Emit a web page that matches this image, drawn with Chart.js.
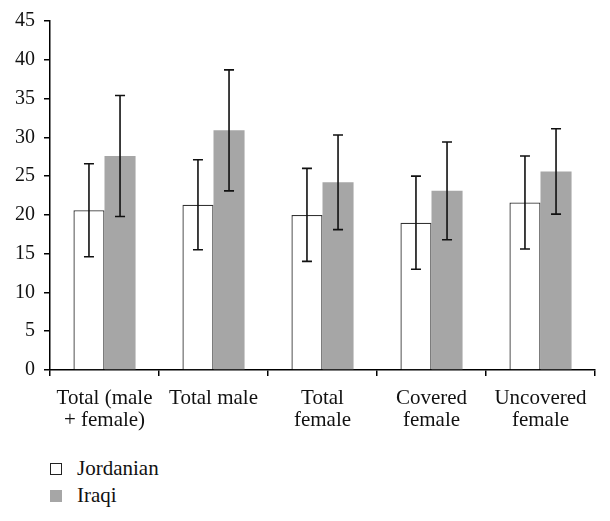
<!DOCTYPE html>
<html>
<head>
<meta charset="utf-8">
<script src="https://cdn.jsdelivr.net/npm/chart.js@4/dist/chart.umd.min.js"></script>
<style>
  body { margin: 0; background: #fff; }
  #wrap { position: relative; width: 610px; height: 521px; }
  #box { position: absolute; left: 0; top: 0; width: 610px; height: 440px; }
  #legend { position: absolute; left: 50px; top: 455px; font-family: "Liberation Serif", serif; font-size: 21px; color: #111; }
  .item { display: flex; align-items: center; height: 27px; }
  .swatch { width: 12px; height: 12px; box-sizing: border-box; margin-right: 15px; }
</style>
</head>
<body>
<div id="wrap">
  <div id="box"><canvas id="chart"></canvas></div>
  <div id="legend"></div>
</div>
<script>
// Données
const categories = [["Total (male", "+ female)"], "Total male", ["Total", "female"], ["Covered", "female"], ["Uncovered", "female"]];
const jordanian = [20.6, 21.3, 20.0, 19.0, 21.6];
const jordanianErr = [6.0, 5.8, 6.0, 6.0, 6.0];
const iraqi = [27.6, 30.9, 24.2, 23.1, 25.6];
const iraqiErr = [7.8, 7.8, 6.1, 6.3, 5.5];
const yTicks = [0, 5, 10, 15, 20, 25, 30, 35, 40, 45];

// Barres d'erreur dessinées à partir des échelles
const errorBars = {
  id: "errorBars",
  afterDatasetsDraw(chart) {
    const ctx = chart.ctx;
    const y = chart.scales.y;
    ctx.save();
    ctx.strokeStyle = "#111";
    ctx.lineWidth = 1.6;
    chart.data.datasets.forEach((ds, i) => {
      const meta = chart.getDatasetMeta(i);
      meta.data.forEach((bar, j) => {
        const top = y.getPixelForValue(ds.data[j] + ds.errors[j]);
        const bottom = y.getPixelForValue(ds.data[j] - ds.errors[j]);
        ctx.beginPath();
        ctx.moveTo(bar.x, top);
        ctx.lineTo(bar.x, bottom);
        ctx.moveTo(bar.x - 5, top);
        ctx.lineTo(bar.x + 5, top);
        ctx.moveTo(bar.x - 5, bottom);
        ctx.lineTo(bar.x + 5, bottom);
        ctx.stroke();
      });
    });
    ctx.restore();
  },
};

const tickFont = { family: "Liberation Serif", size: 20 };
const labelFont = { family: "Liberation Serif", size: 21, lineHeight: 1.05 };

const chart = new Chart(document.getElementById("chart"), {
  type: "bar",
  data: {
    labels: categories,
    datasets: [
      {
        label: "Jordanian",
        data: jordanian,
        errors: jordanianErr,
        backgroundColor: "#ffffff",
        borderColor: "#333333",
        borderWidth: 1.3,
        swatchBorder: "1.5px solid #222",
      },
      {
        label: "Iraqi",
        data: iraqi,
        errors: iraqiErr,
        backgroundColor: "#a6a6a6",
        borderWidth: 0,
        swatchBorder: "none",
      },
    ],
  },
  options: {
    responsive: true,
    maintainAspectRatio: false,
    animation: false,
    layout: { padding: { top: 10, right: 15, left: 0, bottom: 0 } },
    categoryPercentage: 0.57,
    barPercentage: 1.0,
    plugins: { legend: { display: false }, tooltip: { enabled: false } },
    scales: {
      x: {
        grid: { drawOnChartArea: false, tickLength: 6, color: "#000", lineWidth: 1.5 },
        border: { color: "#000", width: 1.5 },
        ticks: { font: labelFont, color: "#111", maxRotation: 0, padding: 11 },
        afterFit(scale) { scale.height = 70; },
      },
      y: {
        min: 0,
        max: 45,
        afterBuildTicks(scale) { scale.ticks = yTicks.map((v) => ({ value: v })); },
        grid: { drawOnChartArea: false, tickLength: 6, color: "#000", lineWidth: 1.5 },
        border: { color: "#000", width: 1.5 },
        ticks: { font: tickFont, color: "#111", padding: 9 },
        afterFit(scale) { scale.width = 50; },
      },
    },
  },
  plugins: [errorBars],
});

// Légende HTML verticale
const legend = document.getElementById("legend");
chart.data.datasets.forEach((ds) => {
  const div = document.createElement("div");
  div.className = "item";
  div.innerHTML = `<span class="swatch" style="background:${ds.backgroundColor};border:${ds.swatchBorder}"></span>${ds.label}`;
  legend.append(div);
});
</script>
</body>
</html>
